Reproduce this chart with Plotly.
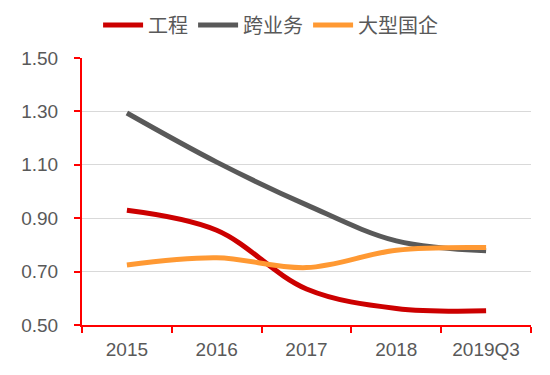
import plotly.graph_objects as go

categories = ["2015", "2016", "2017", "2018", "2019Q3"]
gongcheng = [0.93, 0.855, 0.635, 0.562, 0.553]
kuayewu = [1.294, 1.11, 0.95, 0.815, 0.778]
daxingguoqi = [0.725, 0.752, 0.715, 0.78, 0.79]
yticks = [0.50, 0.70, 0.90, 1.10, 1.30, 1.50]

fig = go.Figure()
series = [("工程", gongcheng, "#CC0000"), ("跨业务", kuayewu, "#595959"), ("大型国企", daxingguoqi, "#FF9933")]
for name, vals, col in series:
    fig.add_trace(go.Scatter(x=categories, y=vals, name=name, mode="lines",
                             line=dict(color=col, width=5, shape="spline", smoothing=1.0)))

fig.update_layout(
    width=550, height=375,
    margin=dict(l=74, r=27, t=50, b=58, autoexpand=False),
    paper_bgcolor="white", plot_bgcolor="white",
    font=dict(family="Liberation Sans, Noto Sans CJK SC", color="#595959", size=19),
    showlegend=True,
    legend=dict(orientation="h", x=0.42, xanchor="center", y=1.124, yanchor="middle",
                font=dict(family="Noto Sans CJK SC", size=20, color="#595959"),
                itemwidth=40, tracegroupgap=0, bgcolor="rgba(0,0,0,0)"),
)
fig.update_xaxes(type="category", range=[-0.5, 4.5], showline=True, linecolor="#FF0000", linewidth=2,
                 ticks="outside", tickcolor="#FF0000", ticklen=6, tickwidth=2, tickson="boundaries",
                 showgrid=False, tickfont=dict(size=19, color="#595959"), ticklabelstandoff=6,
                 automargin=False)
fig.update_yaxes(range=[0.5, 1.5], tickvals=yticks, ticktext=[f"{v:.2f}" for v in yticks],
                 showline=True, linecolor="#FF0000", linewidth=2, ticks="outside", tickcolor="#FF0000",
                 ticklen=6, tickwidth=2, showgrid=True, gridcolor="#D9D9D9", gridwidth=1,
                 zeroline=False, tickfont=dict(size=19, color="#595959"), ticklabelstandoff=12,
                 automargin=False)
fig.write_html("out.html")
